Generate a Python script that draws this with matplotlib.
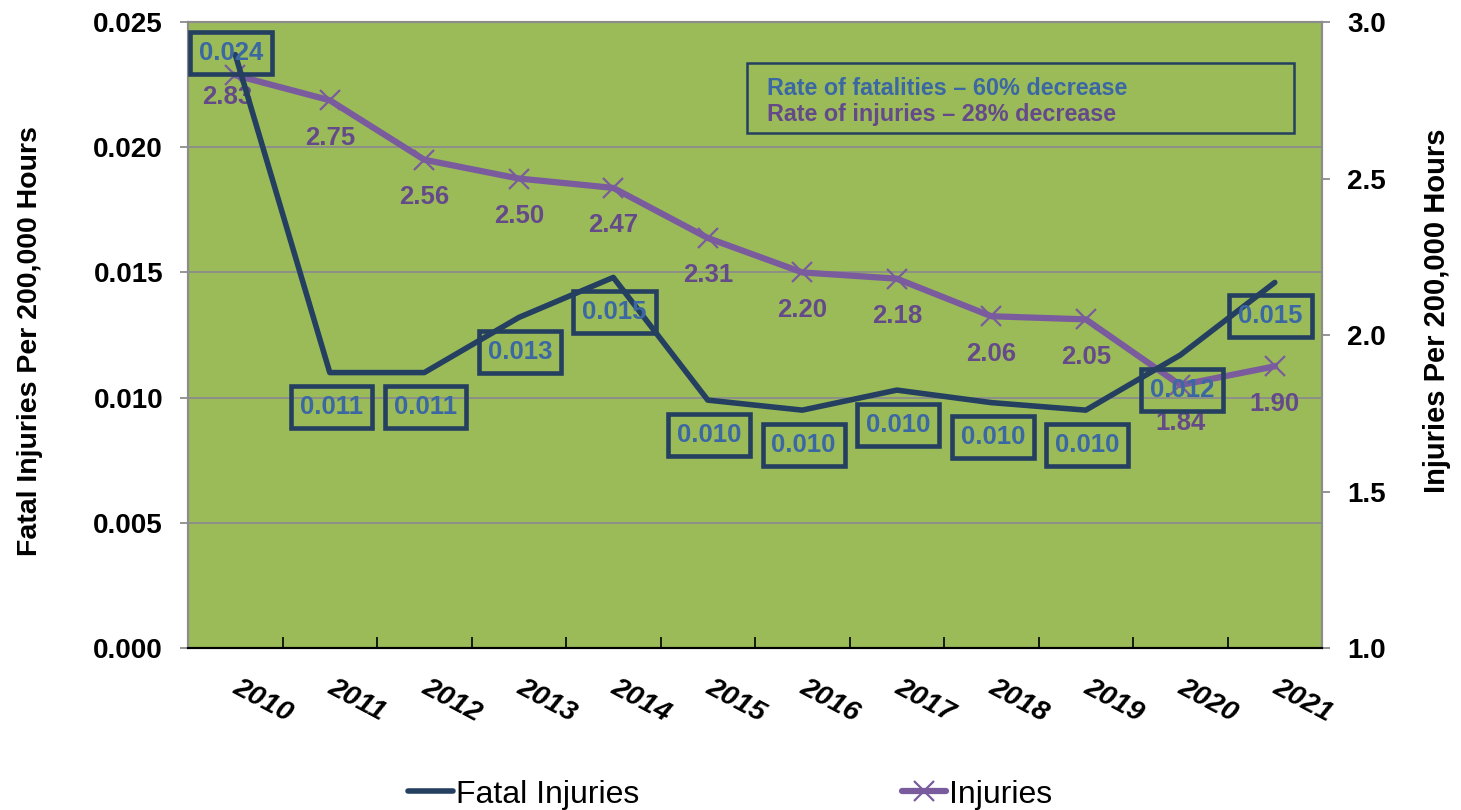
import numpy as np
import matplotlib.pyplot as plt
from matplotlib.patches import Rectangle
from matplotlib.ticker import FixedLocator
from matplotlib.transforms import ScaledTranslation

plt.rcParams['font.family'] = ['Liberation Sans', 'DejaVu Sans']

years = ['2010', '2011', '2012', '2013', '2014', '2015',
         '2016', '2017', '2018', '2019', '2020', '2021']
fatal = [0.0237, 0.0110, 0.0110, 0.0132, 0.0148, 0.0099,
         0.0095, 0.0103, 0.0098, 0.0095, 0.0117, 0.0146]
fatal_txt = ['0.024', '0.011', '0.011', '0.013', '0.015', '0.010',
             '0.010', '0.010', '0.010', '0.010', '0.012', '0.015']
injuries = [2.83, 2.75, 2.56, 2.50, 2.47, 2.31, 2.20, 2.18, 2.06, 2.05, 1.84, 1.90]

green = '#9BBB59'
navy = '#243F60'
purple = '#7A5C9E'
purple_txt = '#654A8A'
blue_txt = '#3B68A3'
grey = '#8C8C8C'

x = np.arange(len(years))

fig = plt.figure(figsize=(14.61, 8.10), dpi=100)
ax = fig.add_axes([0.1287, 0.2, 0.7762, 0.7728])
ax2 = ax.twinx()
# fatal axis drawn on top of the injuries axis
ax.set_zorder(ax2.get_zorder() + 1)
ax.patch.set_visible(False)
ax2.patch.set_visible(True)
ax2.patch.set_facecolor(green)

# injuries (right axis)
ax2.plot(x, injuries, color=purple, lw=4.5, marker='x', ms=15, mew=1.6, zorder=3)
for i, v in enumerate(injuries):
    dx, dy = (-6, -16) if i == 0 else (0, -27)
    ax2.annotate(f'{v:.2f}', (x[i], v), xytext=(dx, dy), textcoords='offset points',
                 ha='center', va='center', fontsize=18.5, fontweight='bold', color=purple_txt)
ax2.set_ylim(1.0, 3.0)
ax2.set_yticks([1.0, 1.5, 2.0, 2.5, 3.0])
ax2.set_yticklabels(['1.0', '1.5', '2.0', '2.5', '3.0'], fontsize=20, fontweight='bold')
# horizontal gridlines follow the left axis ticks
ax2.yaxis.set_minor_locator(FixedLocator([1.4, 1.8, 2.2, 2.6]))
ax2.grid(axis='y', which='minor', color=grey, lw=1.3)
ax2.tick_params(axis='y', which='minor', length=0)
ax2.tick_params(axis='y', which='major', length=6, width=1.3, color=grey, pad=12)
ax2.set_ylabel('Injuries Per 200,000 Hours', fontsize=21, fontweight='bold')
ax2.yaxis.set_label_coords(1.089, 0.538)

# fatal injuries (left axis)
ax.plot(x, fatal, color=navy, lw=4, solid_joinstyle='round', solid_capstyle='round', zorder=3)
for i, v in enumerate(fatal):
    dx, dy = (-3, 1) if i == 0 else ((-3, -24) if i == len(fatal) - 1 else (1, -25))
    ax.annotate(fatal_txt[i], (x[i], v), xytext=(dx, dy), textcoords='offset points',
                ha='center', va='center', fontsize=18.5, fontweight='bold', color=blue_txt,
                bbox=dict(boxstyle='square,pad=0.35', fc='none', ec=navy, lw=3.3))
ax.set_ylim(0, 0.025)
ax.set_yticks([0, 0.005, 0.010, 0.015, 0.020, 0.025])
ax.set_yticklabels(['0.000', '0.005', '0.010', '0.015', '0.020', '0.025'],
                   fontsize=20, fontweight='bold')
ax.tick_params(axis='y', length=6, width=1.3, color=grey, pad=12)
ax.set_ylabel('Fatal Injuries Per 200,000 Hours', fontsize=20.5, fontweight='bold')
ax.yaxis.set_label_coords(-0.128, 0.49)

ax.set_xlim(-0.5, len(years) - 0.5)
ax.set_xticks(x)
ax.set_xticklabels(years, fontsize=20.5, fontweight='bold', fontstyle='italic')
ax.xaxis.set_minor_locator(FixedLocator(np.arange(len(years) + 1) - 0.5))
ax.tick_params(axis='x', which='major', length=0, pad=19)
ax.tick_params(axis='x', which='minor', length=8, width=1.2, direction='in', color='black')
for lab in ax.get_xticklabels():
    lab.set_rotation(-28)
    lab.set_ha('left')
    lab.set_va('top')
    lab.set_rotation_mode('anchor')
    lab.set_transform(lab.get_transform() + ScaledTranslation(0.06, 0, fig.dpi_scale_trans))

for a in (ax, ax2):
    for s in ('left', 'right', 'top'):
        a.spines[s].set_color(grey)
        a.spines[s].set_linewidth(1.5)
    a.spines['bottom'].set_color('black')
    a.spines['bottom'].set_linewidth(1.5)

# summary box
ax.add_patch(Rectangle((0.493, 0.8227), 0.482, 0.112, transform=ax.transAxes,
                       fill=False, ec=navy, lw=1.8, zorder=4))
ax.text(0.5106, 0.894, 'Rate of fatalities \u2013 60% decrease', transform=ax.transAxes,
        fontsize=16.8, fontweight='bold', color=blue_txt, va='center', ha='left')
ax.text(0.5106, 0.852, 'Rate of injuries \u2013 28% decrease', transform=ax.transAxes,
        fontsize=16.8, fontweight='bold', color=purple_txt, va='center', ha='left')

h1, = ax.plot([], [], color=navy, lw=4, solid_capstyle='round')
h2, = ax.plot([], [], color=purple, lw=4.5, marker='x', ms=15, mew=1.6, solid_capstyle='round')
fig.legend([h1, h2], ['Fatal Injuries', 'Injuries'], loc='lower center',
           bbox_to_anchor=(0.5, -0.035), ncol=2, frameon=False, fontsize=23,
           handlelength=1.4, handletextpad=0.1, columnspacing=8.2)

fig.savefig('out.png', dpi=100)
